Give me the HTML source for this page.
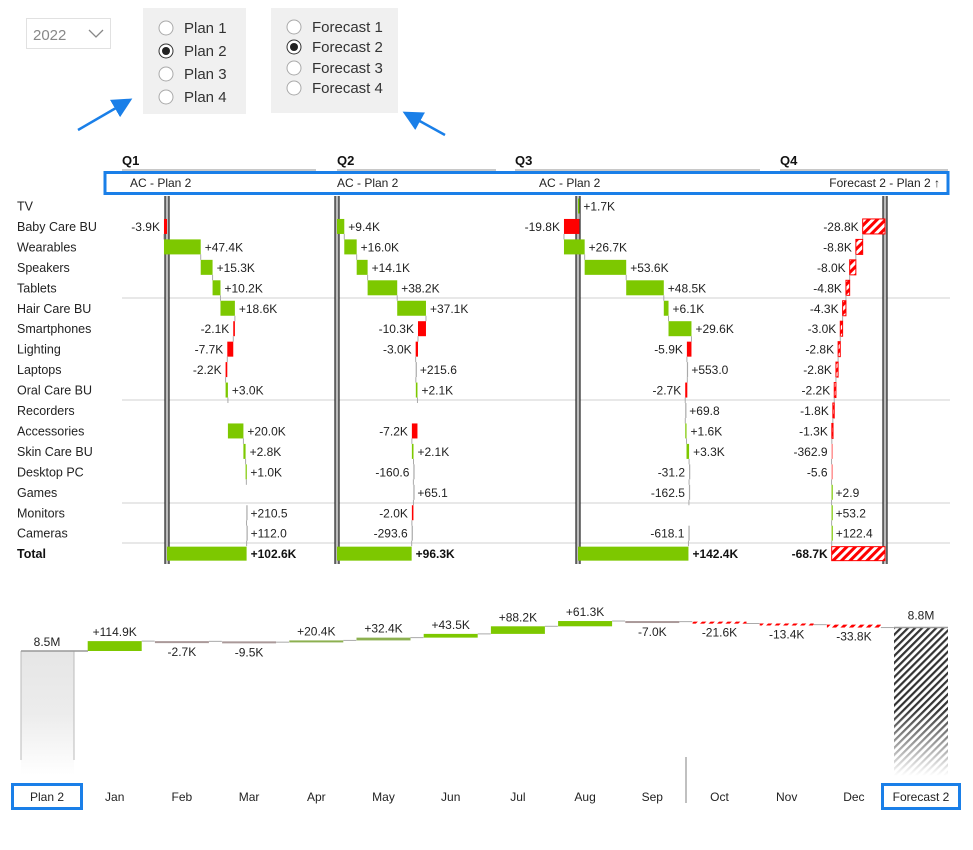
<!DOCTYPE html>
<html><head><meta charset="utf-8"><style>
html,body{margin:0;padding:0;background:#fff;width:973px;height:850px;overflow:hidden}
svg{display:block;font-family:"Liberation Sans",sans-serif}
</style></head><body>
<svg id="s" width="973" height="850" xmlns="http://www.w3.org/2000/svg">
<defs>
<pattern id="hr" width="6" height="6" patternUnits="userSpaceOnUse" patternTransform="rotate(45)">
<rect width="6" height="6" fill="#fff"/><rect width="3" height="6" fill="#f00"/></pattern>
<pattern id="hg" width="5" height="5" patternUnits="userSpaceOnUse" patternTransform="rotate(45)">
<rect width="5" height="5" fill="#fff"/><rect width="2.2" height="5" fill="#333"/></pattern>
<linearGradient id="gp" x1="0" y1="0" x2="0" y2="1"><stop offset="0" stop-color="#e6e6e6"/><stop offset="0.5" stop-color="#ececec"/><stop offset="1" stop-color="#fff"/></linearGradient>
<linearGradient id="fm" x1="0" y1="0" x2="0" y2="1"><stop offset="0" stop-color="#fff"/><stop offset="0.55" stop-color="#fff"/><stop offset="1" stop-color="#000"/></linearGradient>
<mask id="mk"><rect x="894" y="628" width="54" height="148" fill="url(#fm)"/></mask>
<marker id="ar" markerWidth="8" markerHeight="8" refX="6" refY="4" orient="auto"><path d="M0,0 L8,4 L0,8 z" fill="#1a7fe8"/></marker>
</defs>
<rect x="26.5" y="18.5" width="84" height="30" fill="#fff" stroke="#e1e1e1"/>
<text x="33" y="40" font-size="15" fill="#888">2022</text>
<path d="M89,30 L96,37 L103,30" fill="none" stroke="#888" stroke-width="1.3"/>
<rect x="143" y="8" width="103" height="106" fill="#f0f0f0"/>
<rect x="271" y="8" width="127" height="105" fill="#f0f0f0"/>
<g font-size="15" fill="#333">
<circle cx="166" cy="28" r="7" fill="#fff" stroke="#aaa"/><text x="184" y="33">Plan 1</text>
<circle cx="166" cy="51" r="7" fill="#fff" stroke="#333"/><circle cx="166" cy="51" r="4" fill="#222"/><text x="184" y="56">Plan 2</text>
<circle cx="166" cy="74" r="7" fill="#fff" stroke="#aaa"/><text x="184" y="79">Plan 3</text>
<circle cx="166" cy="97" r="7" fill="#fff" stroke="#aaa"/><text x="184" y="102">Plan 4</text>
<circle cx="294" cy="27" r="7" fill="#fff" stroke="#aaa"/><text x="312" y="32">Forecast 1</text>
<circle cx="294" cy="47" r="7" fill="#fff" stroke="#333"/><circle cx="294" cy="47" r="4" fill="#222"/><text x="312" y="52">Forecast 2</text>
<circle cx="294" cy="68" r="7" fill="#fff" stroke="#aaa"/><text x="312" y="73">Forecast 3</text>
<circle cx="294" cy="88" r="7" fill="#fff" stroke="#aaa"/><text x="312" y="93">Forecast 4</text>
</g>
<line x1="78" y1="130" x2="128" y2="101" stroke="#1a7fe8" stroke-width="2.5" marker-end="url(#ar)"/>
<line x1="445" y1="135" x2="407" y2="114" stroke="#1a7fe8" stroke-width="2.5" marker-end="url(#ar)"/>
<g font-size="13" font-weight="bold" fill="#111">
<text x="122" y="165">Q1</text><text x="337" y="165">Q2</text><text x="515" y="165">Q3</text><text x="780" y="165">Q4</text></g>
<g stroke="#c8c8c8" stroke-width="2"><line x1="122" y1="170" x2="316" y2="170"/><line x1="337" y1="170" x2="496" y2="170"/><line x1="515" y1="170" x2="760" y2="170"/><line x1="780" y1="170" x2="948" y2="170"/></g>
<rect x="105" y="172.5" width="843" height="21" fill="#fff" stroke="#1a7fe8" stroke-width="3"/>
<g font-size="12" fill="#222"><text x="130" y="187">AC - Plan 2</text><text x="337" y="187">AC - Plan 2</text><text x="539" y="187">AC - Plan 2</text><text x="940" y="187" text-anchor="end">Forecast 2 - Plan 2 ↑</text></g>
<g id="g"></g>
</svg>
<script>
var g=document.getElementById('g'),NS='http://www.w3.org/2000/svg';
function el(t,a,txt){var e=document.createElementNS(NS,t);for(var k in a)e.setAttribute(k,a[k]);if(txt!=null)e.textContent=txt;g.appendChild(e);return e;}
var rows=["TV","Baby Care BU","Wearables","Speakers","Tablets","Hair Care BU","Smartphones","Lighting","Laptops","Oral Care BU","Recorders","Accessories","Skin Care BU","Desktop PC","Games","Monitors","Cameras"];
function ry(i){return 206+i*20.45;}
rows.forEach(function(r,i){el('text',{x:17,y:ry(i)+4.5,'font-size':12.5,fill:'#222'},r);});
el('text',{x:17,y:ry(17)+4.5,'font-size':12.5,'font-weight':'bold',fill:'#111'},'Total');
[298,400,503,543].forEach(function(y){el('line',{x1:122,y1:y,x2:950,y2:y,stroke:'#d0d0d0','stroke-width':1});});
var Q=[
{ax:167,v:[null,-3.9,47.4,15.3,10.2,18.6,-2.1,-7.7,-2.2,3.0,null,20.0,2.8,1.0,null,0.2105,0.112],lb:[null,"-3.9K","+47.4K","+15.3K","+10.2K","+18.6K","-2.1K","-7.7K","-2.2K","+3.0K",null,"+20.0K","+2.8K","+1.0K",null,"+210.5","+112.0"],tot:"+102.6K"},
{ax:337,v:[null,9.4,16.0,14.1,38.2,37.1,-10.3,-3.0,0.2156,2.1,null,-7.2,2.1,-0.1606,0.0651,-2.0,-0.2936],lb:[null,"+9.4K","+16.0K","+14.1K","+38.2K","+37.1K","-10.3K","-3.0K","+215.6","+2.1K",null,"-7.2K","+2.1K","-160.6","+65.1","-2.0K","-293.6"],tot:"+96.3K"},
{ax:578,v:[1.7,-19.8,26.7,53.6,48.5,6.1,29.6,-5.9,0.553,-2.7,0.0698,1.6,3.3,-0.0312,-0.1625,null,-0.6181],lb:["+1.7K","-19.8K","+26.7K","+53.6K","+48.5K","+6.1K","+29.6K","-5.9K","+553.0","-2.7K","+69.8","+1.6K","+3.3K","-31.2","-162.5",null,"-618.1"],tot:"+142.4K"},
{ax:885,h:1,v:[null,-28.8,-8.8,-8.0,-4.8,-4.3,-3.0,-2.8,-2.8,-2.2,-1.8,-1.3,-0.3629,-0.0056,0.0029,0.0532,0.1224],lb:[null,"-28.8K","-8.8K","-8.0K","-4.8K","-4.3K","-3.0K","-2.8K","-2.8K","-2.2K","-1.8K","-1.3K","-362.9","-5.6","+2.9","+53.2","+122.4"],tot:"-68.7K"}];
var S=0.775;
Q.forEach(function(q){
 el('rect',{x:q.ax-2.5,y:196,width:5,height:368,fill:'#bbb'});
 el('line',{x1:q.ax-2,y1:196,x2:q.ax-2,y2:564,stroke:'#222','stroke-width':1.2});
 el('line',{x1:q.ax+2,y1:196,x2:q.ax+2,y2:564,stroke:'#222','stroke-width':1.2});
 var c=0;
 q.v.forEach(function(v,i){
  if(v===null)return;
  var x0=q.ax+c*S,x1=q.ax+(c+v)*S;c+=v;
  var a=Math.min(x0,x1),w=Math.abs(x1-x0);if(w<1.2){w=1.2;}
  var y=ry(i)-7.5,col;
  if(q.h){col=v<0?'url(#hr)':'#7dc800';}else col=v<0?'#f00':'#7dc800';
  if(Math.abs(v)<0.7&&!q.h)col='#aaa';
  if(q.h&&Math.abs(v)<0.7)col=v<0?'#f77':'#7dc800';
  el('rect',{x:a,y:y,width:w,height:15,fill:col,stroke:(q.h&&v<-0.7)?'#f00':'none','stroke-width':1});
  el('line',{x1:x1,y1:y+15,x2:x1,y2:y+20.45,stroke:'#aaa','stroke-width':1});
  var pos=v>=0;
  el('text',{x:pos?Math.max(x0,x1)+4:a-4,y:ry(i)+4.5,'font-size':12,fill:'#222','text-anchor':pos?'start':'end'},q.lb[i]);
 });
 var x0=q.ax,x1=q.ax+c*S,a=Math.min(x0,x1),w=Math.abs(x1-x0),y=ry(17)-7;
 el('rect',{x:a,y:y,width:w,height:14,fill:q.h?'url(#hr)':'#7dc800',stroke:q.h?'#f00':'none'});
 el('text',{x:c>=0?x1+4:a-4,y:ry(17)+4.5,'font-size':12,'font-weight':'bold',fill:'#111','text-anchor':c>=0?'start':'end'},q.tot);
});
var months=["Jan","Feb","Mar","Apr","May","Jun","Jul","Aug","Sep","Oct","Nov","Dec"];
var mv=[114.9,-2.7,-9.5,20.4,32.4,43.5,88.2,61.3,-7.0,-21.6,-13.4,-33.8];
var ml=["+114.9K","-2.7K","-9.5K","+20.4K","+32.4K","+43.5K","+88.2K","+61.3K","-7.0K","-21.6K","-13.4K","-33.8K"];
function cx(i){return 47.5+i*67.2;}
el('rect',{x:21,y:651,width:53,height:124,fill:'url(#gp)'});
el('line',{x1:21,y1:651,x2:21,y2:760,stroke:'#bbb'});el('line',{x1:74,y1:651,x2:74,y2:760,stroke:'#bbb'});
el('line',{x1:21,y1:651,x2:88,y2:651,stroke:'#999','stroke-width':1.5});
el('text',{x:47,y:646,'font-size':12,fill:'#222','text-anchor':'middle'},'8.5M');
var base=651,k=0.086,cum=0;
mv.forEach(function(v,i){
 var y0=base-cum*k;cum+=v;var y1=base-cum*k;
 var c=cx(i+1),t=Math.min(y0,y1),h=Math.max(Math.abs(y1-y0),2);
 var col=v>=0?(v>15?'#7dc800':'#9a9'):(i>=9?'url(#hr)':'#a99');
 if(v>=0&&v>15&&v<40)col='#8cb050';
 if(v>=0&&v>=40)col='#7dc800';
 el('rect',{x:c-27,y:t,width:54,height:h,fill:col});
 el('line',{x1:c+27,y1:y1,x2:c+40,y2:y1,stroke:'#aaa','stroke-width':1});
 if(v>=0)el('text',{x:c,y:t-5,'font-size':12,fill:'#222','text-anchor':'middle'},ml[i]);
 else el('text',{x:c,y:t+h+13,'font-size':12,fill:'#222','text-anchor':'middle'},ml[i]);
 el('text',{x:c,y:801,'font-size':12,fill:'#222','text-anchor':'middle'},months[i]);
});
var fy=base-cum*k;
el('rect',{x:894,y:fy,width:54,height:776-fy,fill:'url(#hg)',mask:'url(#mk)'});
el('line',{x1:894,y1:fy,x2:948,y2:fy,stroke:'#999','stroke-width':1.5});
el('text',{x:921,y:fy-8,'font-size':12,fill:'#222','text-anchor':'middle'},'8.8M');
el('line',{x1:686,y1:757,x2:686,y2:803,stroke:'#aaa','stroke-width':1.5});
el('rect',{x:12.5,y:784.5,width:69,height:24,fill:'#fff',stroke:'#1a7fe8','stroke-width':3});
el('text',{x:47,y:801,'font-size':12,fill:'#222','text-anchor':'middle'},'Plan 2');
el('rect',{x:882.5,y:784.5,width:77,height:24,fill:'#fff',stroke:'#1a7fe8','stroke-width':3});
el('text',{x:921,y:801,'font-size':12,fill:'#222','text-anchor':'middle'},'Forecast 2');
</script>
</body></html>
